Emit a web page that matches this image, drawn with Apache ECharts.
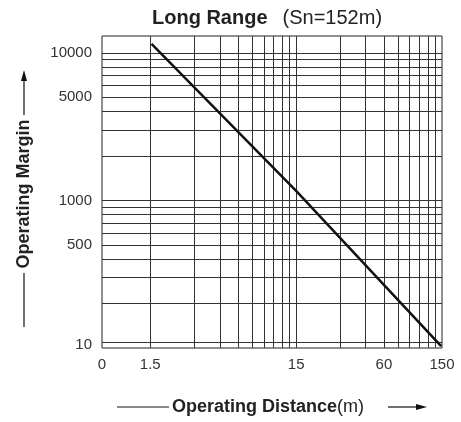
<!DOCTYPE html>
<html>
<head>
<meta charset="utf-8">
<script src="https://cdn.jsdelivr.net/npm/echarts@6/dist/echarts.min.js"></script>
<style>
  html, body { margin: 0; padding: 0; background: #fff; }
  #chart { width: 461px; height: 422px; }
</style>
</head>
<body>
<div id="chart"></div>
<script>
// curve (distance in m, margin)
const distance = [1.53, 15, 148];
const margin = [11500, 1160, 103];

// axis labels
const xLabelValues = [0.7, 1.5, 15, 60, 150];
const xLabelTexts = ['0', '1.5', '15', '60', '150'];
const yLabelValues = [105, 500, 1000, 5000, 10000];
const yLabelTexts = ['10', '500', '1000', '5000', '10000'];

// grid lines of the paper
const xGridValues = [1.5, 3, 4.5, 6, 7.5, 9, 10.5, 12, 13.5, 15, 30, 45, 60, 75, 90, 105, 120, 135];
const yGridValues = [110, 200, 300, 400, 500, 600, 700, 800, 900,
  1000, 2000, 3000, 4000, 5000, 6000, 7000, 8000, 9000, 10000];

const FONT = 'Liberation Sans, Arial, sans-serif';

function pickLabel(values, texts, v) {
  let best = 0;
  for (let i = 1; i < values.length; i++) {
    if (Math.abs(Math.log(values[i] / v)) < Math.abs(Math.log(values[best] / v))) best = i;
  }
  return texts[best];
}

const chart = echarts.init(document.getElementById('chart'));

const option = {
  animation: false,
  title: {
    text: '{b|Long Range}   {n|(Sn=152m)}',
    left: 147,
    top: 3,
    textStyle: {
      rich: {
        b: { fontFamily: FONT, fontWeight: 'bold', fontSize: 20, color: '#222' },
        n: { fontFamily: FONT, fontWeight: 'normal', fontSize: 20, color: '#222' }
      }
    }
  },
  grid: {
    left: 102, right: 19, top: 36, bottom: 74,
    show: true, borderColor: '#222', borderWidth: 1, backgroundColor: 'transparent'
  },
  xAxis: {
    type: 'log',
    logBase: 10,
    min: 0.7,
    max: 150,
    axisLine: { show: false },
    axisTick: { show: false },
    splitLine: { show: false },
    axisLabel: {
      customValues: xLabelValues,
      formatter: (v) => pickLabel(xLabelValues, xLabelTexts, v),
      fontFamily: FONT, fontSize: 15, color: '#333', margin: 9
    }
  },
  yAxis: {
    type: 'log',
    logBase: 10,
    min: 100,
    max: 13000,
    axisLine: { show: false },
    axisTick: { show: false },
    splitLine: { show: false },
    axisLabel: {
      customValues: yLabelValues,
      formatter: (v) => pickLabel(yLabelValues, yLabelTexts, v),
      fontFamily: FONT, fontSize: 15, color: '#333', margin: 10
    }
  },
  series: [
    {
      type: 'line',
      data: [],
      silent: true,
      markLine: {
        z: 1,
        silent: true,
        symbol: 'none',
        animation: false,
        label: { show: false },
        lineStyle: { color: '#333', width: 1, type: 'solid' },
        data: xGridValues.map((v) => ({ xAxis: v })).concat(yGridValues.map((v) => ({ yAxis: v })))
      }
    },
    {
      type: 'line',
      z: 4,
      data: distance.map((d, i) => [d, margin[i]]),
      symbol: 'none',
      lineStyle: { color: '#111', width: 2.5 }
    }
  ],
  graphic: [
    // x axis name with arrow
    { type: 'line', shape: { x1: 117, y1: 407, x2: 169, y2: 407 }, style: { stroke: '#111', lineWidth: 1.2 } },
    {
      type: 'text', x: 172, y: 407,
      style: {
        text: '{b|Operating Distance}{n|(m)}',
        verticalAlign: 'middle',
        rich: {
          b: { fontFamily: FONT, fontWeight: 'bold', fontSize: 18, fill: '#222' },
          n: { fontFamily: FONT, fontSize: 18, fill: '#222' }
        }
      }
    },
    { type: 'line', shape: { x1: 388, y1: 407, x2: 420, y2: 407 }, style: { stroke: '#111', lineWidth: 1.2 } },
    { type: 'polygon', shape: { points: [[427, 407], [416, 404], [416, 410]] }, style: { fill: '#111' } },
    // y axis name with arrow
    { type: 'line', shape: { x1: 24, y1: 327, x2: 24, y2: 273 }, style: { stroke: '#111', lineWidth: 1.2 } },
    {
      type: 'text', x: 24, y: 194, rotation: Math.PI / 2,
      style: {
        text: 'Operating Margin',
        align: 'center',
        verticalAlign: 'middle',
        fontFamily: FONT, fontWeight: 'bold', fontSize: 18, fill: '#222'
      }
    },
    { type: 'line', shape: { x1: 24, y1: 115, x2: 24, y2: 78 }, style: { stroke: '#111', lineWidth: 1.2 } },
    { type: 'polygon', shape: { points: [[24, 70], [21, 81], [27, 81]] }, style: { fill: '#111' } }
  ]
};

chart.setOption(option);
</script>
</body>
</html>
